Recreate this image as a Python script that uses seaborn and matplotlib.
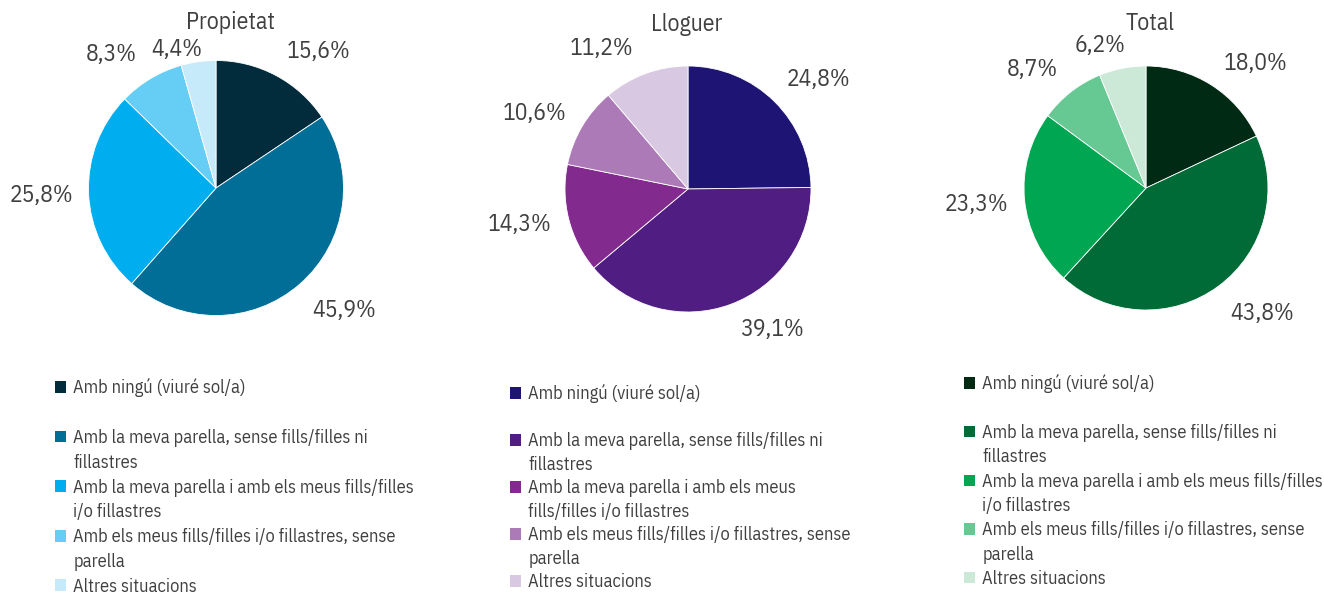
import matplotlib
matplotlib.use("Agg")
import matplotlib.pyplot as plt
from matplotlib.patches import Patch
import seaborn as sns
import numpy as np

# ---- data ----
groups = ["Propietat", "Lloguer", "Total"]
categories = [
    "Amb ningú (viuré sol/a)",
    "Amb la meva parella, sense fills/filles ni fillastres",
    "Amb la meva parella i amb els meus fills/filles i/o fillastres",
    "Amb els meus fills/filles i/o fillastres, sense parella",
    "Altres situacions",
]
values_propietat = [15.6, 45.9, 25.8, 8.3, 4.4]
values_lloguer = [24.8, 39.1, 14.3, 10.6, 11.2]
values_total = [18.0, 43.8, 23.3, 8.7, 6.2]

colors_propietat = ["#022C3B", "#006E96", "#00AEEF", "#66CDF5", "#C7EAFB"]
colors_lloguer = ["#1E1473", "#501E82", "#822A8E", "#AD7AB8", "#D9C8E2"]
colors_total = ["#002A14", "#006B36", "#00A651", "#66C892", "#CCE8D7"]

# legend text as wrapped in each legend
legend_lines_propietat = [
    ["Amb ningú (viuré sol/a)", ""],
    ["Amb la meva parella, sense fills/filles ni", "fillastres"],
    ["Amb la meva parella i amb els meus fills/filles", "i/o fillastres"],
    ["Amb els meus fills/filles i/o fillastres, sense", "parella"],
    ["Altres situacions"],
]
legend_lines_lloguer = [
    ["Amb ningú (viuré sol/a)", ""],
    ["Amb la meva parella, sense fills/filles ni", "fillastres"],
    ["Amb la meva parella i amb els meus", "fills/filles i/o fillastres"],
    ["Amb els meus fills/filles i/o fillastres, sense", "parella"],
    ["Altres situacions"],
]
legend_lines_total = legend_lines_propietat

sns.set_theme(style="white")
plt.rcParams["font.family"] = ["IBM Plex Sans Condensed", "Roboto Condensed", "DejaVu Sans"]
TXT = "#404040"

W, H = 1324, 594
fig = plt.figure(figsize=(W / 100, H / 100), dpi=100)

# layout in pixels; label placement as (distance factor, angle nudge in degrees)
layout = [
    dict(c=(216, 188), r=127.5, title=(230, 23), leg=(55, 378.5), sp=0.37,
         lab=[(1.34, -9.0), (1.39, 5.2), (1.37, 0.4), (1.33, 7.4), (1.13, 8.0)]),
    dict(c=(688, 189), r=123, title=(687, 25), leg=(510, 384.5), sp=0.30,
         lab=[(1.38, -5.4), (1.33, 10.5), (1.40, -2.2), (1.39, 4.4), (1.34, 11.6)]),
    dict(c=(1146, 188), r=122, title=(1150, 24), leg=(964, 374.5), sp=0.345,
         lab=[(1.36, -8.9), (1.40, 6.3), (1.40, 0.1), (1.35, 5.9), (1.23, 6.8)]),
]
all_vals = [values_propietat, values_lloguer, values_total]
all_cols = [colors_propietat, colors_lloguer, colors_total]
all_leg = [legend_lines_propietat, legend_lines_lloguer, legend_lines_total]


def fmt(v):
    return f"{v:.1f}".replace(".", ",") + "%"


for g, vals, cols, leg, L in zip(groups, all_vals, all_cols, all_leg, layout):
    cx, cy = L["c"]
    r = L["r"]
    size = 3 * r
    ax = fig.add_axes([(cx - size / 2) / W, (H - cy - size / 2) / H, size / W, size / H])
    wedges, _t = ax.pie(
        vals, colors=cols, startangle=90, counterclock=False,
        wedgeprops=dict(linewidth=0.6, edgecolor="white"),
    )
    for w, v, (d, nudge) in zip(wedges, vals, L["lab"]):
        ang = np.deg2rad((w.theta1 + w.theta2) / 2 + nudge)
        ax.text(d * np.cos(ang), d * np.sin(ang), fmt(v), ha="center", va="center",
                fontsize=17, color=TXT)
    ax.set_xlim(-1.5, 1.5)
    ax.set_ylim(-1.5, 1.5)
    ax.set_aspect("equal")
    ax.axis("off")
    tx, ty = L["title"]
    fig.text(tx / W, 1 - ty / H, g, ha="center", va="center", fontsize=17, color=TXT)

    handles, labels = [], []
    for w, lines in zip(wedges, leg):
        for i, line in enumerate(lines):
            if i == 0:
                handles.append(Patch(facecolor=w.get_facecolor(), edgecolor="none"))
            else:
                handles.append(Patch(facecolor="none", edgecolor="none"))
            labels.append(line)
    lx, ly = L["leg"]
    fig.legend(handles, labels, loc="upper left",
               bbox_to_anchor=(lx / W, 1 - ly / H), frameon=False,
               fontsize=13.2, labelcolor=TXT, handlelength=0.6, handleheight=0.6,
               handletextpad=0.4, labelspacing=L["sp"], borderpad=0, borderaxespad=0)

fig.savefig("out.png", dpi=100)
